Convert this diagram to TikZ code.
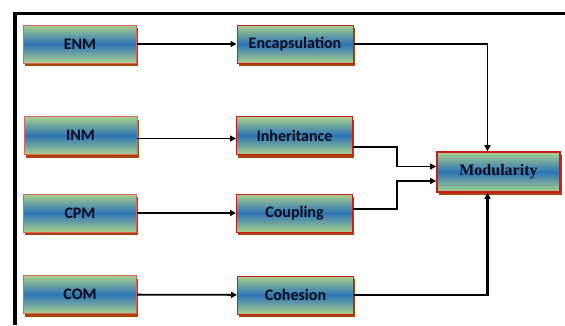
\documentclass[tikz,border=0pt]{standalone}
\usepackage{fontspec}
\setmainfont{Carlito}
\newfontfamily\serifbold{Liberation Serif}
\usetikzlibrary{shadows,arrows.meta}
\definecolor{boxgreen}{HTML}{A9D18E}
\definecolor{boxblue}{HTML}{2E74B5}
\definecolor{shadowbrown}{HTML}{A8440C}
\definecolor{edgered}{HTML}{E06060}
\definecolor{edgedark}{HTML}{D01818}
\definecolor{txt}{HTML}{070C1C}
\tikzset{
  gbox/.style={minimum width=113pt, minimum height=38pt, inner sep=0pt,
    top color=boxgreen, bottom color=boxgreen, middle color=boxblue,
    draw=edgered, line width=0.8pt, text=txt,
    font=\fontsize{16}{18}\selectfont\bfseries,
    drop shadow={shadow xshift=1.5pt, shadow yshift=-3pt, fill=shadowbrown, opacity=1}},
  mbox/.style={gbox, minimum width=116pt, draw=edgedark, line width=1pt},
  modbox/.style={gbox, minimum width=123pt, minimum height=40pt, draw=edgedark, line width=1.8pt,
    font=\fontsize{16}{18}\selectfont\serifbold\bfseries},
  arr/.style={-{Triangle[length=6pt,width=6pt]}, line width=1.8pt},
  arrthick/.style={-{Triangle[length=6pt,width=6pt]}, line width=2.5pt},
  arrthin/.style={-{Triangle[length=6pt,width=6pt]}, line width=1.4pt},
  frame/.style={line width=3.5pt}
}
\begin{document}
\begin{tikzpicture}[x=1pt,y=-1pt]
\useasboundingbox (0,0) rectangle (565,325);
\draw[frame] (565,13.3) -- (13.3,13.3);
\draw[frame] (15,11.5) -- (15,325);

\node[gbox] (ENM) at (80,44) {ENM};
\node[gbox] (INM) at (80.5,135.5) {INM};
\node[gbox] (CPM) at (80,213) {CPM};
\node[gbox] (COM) at (80,294.5) {COM};

\node[mbox] (Enc) at (295,44) {Encapsulation};
\node[mbox] (Inh) at (294.5,135.5) {Inheritance};
\node[mbox] (Cou) at (294.5,213) {Coupling};
\node[mbox] (Coh) at (295.5,295) {Cohesion};

\node[modbox] (Mod) at (498.5,172) {Modularity};

\coordinate (jx) at (397,0);
\coordinate (modin1) at ([yshift=5.5pt]Mod.west);
\coordinate (modin2) at ([yshift=-9pt]Mod.west);

\draw[arr] (ENM) -- (Enc);
\draw[arr] ([yshift=-3pt]INM.east) -- ([yshift=-3pt]Inh.west);
\draw[arr] (CPM) -- (Cou);
\draw[arr] (COM) -- (Coh);

\draw[arr] (Enc.east) -| ([xshift=-11pt]Mod.north);
\draw[arrthick] (Coh.east) -| ([xshift=-11pt]Mod.south);
\draw[arrthin] ([yshift=-11.5pt]Inh.east) -| (jx |- modin1) -- (modin1);
\draw[arrthin] ([yshift=4pt]Cou.east) -| (jx |- modin2) -- (modin2);
\end{tikzpicture}
\end{document}
